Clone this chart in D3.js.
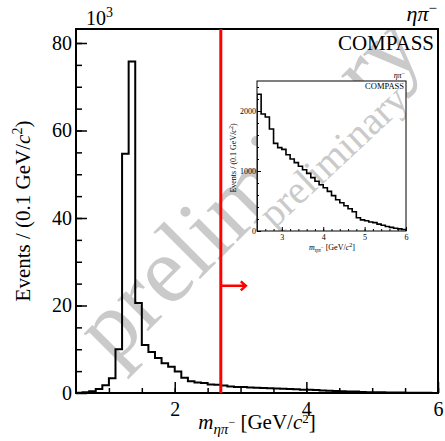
<!DOCTYPE html>
<html><head><meta charset="utf-8">
<script src="https://cdn.jsdelivr.net/npm/d3@7"></script>
<style>body{margin:0;background:#fff} svg{display:block}</style>
</head><body>
<script>
// ---------------- data ----------------
// main histogram, bins of 0.1 GeV starting at 0.5 GeV, values in 10^3 events
const binWidth = 0.1;
const lowMassStart = 0.5;
const lowMassCounts = [0.05,0.15,0.4,0.9,1.75,3.4,10.0,54.7,75.8,20.6,11.0,9.4,8.0,6.8,6.0,4.9,3.5,2.7,2.4];
// high-mass tail (also shown in inset), bins of 0.1 GeV starting at 2.4 GeV, values in events
const tailStart = 2.4;
const tailCounts = [2280,1950,1900,1700,1460,1390,1360,1270,1200,1140,1080,1020,960,890,830,770,720,660,590,520,470,420,370,320,220,185,170,150,140,115,95,75,60,45,35,25];
const mainXTicks = [2,4,6];
const mainYTicks = [0,20,40,60,80];
const insetXTicks = [3,4,5,6];
const insetYTicks = [0,1000,2000];
const cutMass = 2.7;
const arrowEnd = 3.08;
const arrowLevel = 24.5;

// ---------------- layout ----------------
const W = 445, H = 441;
const L = 76, R = 438, T = 29, B = 393;
const serif = "'Liberation Serif','Times New Roman',serif";
const wm = "#cacaca";

const svg = d3.select("body").append("svg").attr("width", W).attr("height", H)
  .style("font-family", serif);

const x = d3.scaleLinear([0.5, 6], [L, R]);
const y = d3.scaleLinear([0, 83.2], [B, T]);

function stepPoints(start, counts, scale) {
  const pts = [[start, 0]];
  counts.forEach((v, i) => {
    const lo = start + i * binWidth, hi = start + (i + 1) * binWidth;
    pts.push([lo, v * scale], [hi, v * scale]);
  });
  pts.push([start + counts.length * binWidth, 0]);
  return pts;
}

const defs = svg.append("defs");
defs.append("clipPath").attr("id", "mainclip")
  .append("rect").attr("x", L).attr("y", T).attr("width", R - L).attr("height", B - T);

// main watermark
svg.append("g").attr("clip-path", "url(#mainclip)")
  .append("text").text("preliminary")
  .attr("transform", `translate(113,366) rotate(-45)`)
  .attr("font-size", 95).attr("fill", wm);

// main histogram (low mass + tail in thousands)
const mainPts = stepPoints(lowMassStart, lowMassCounts, 1)
  .slice(0, -1)
  .concat(stepPoints(tailStart, tailCounts, 0.001).slice(1));
const line = d3.line().x(d => x(d[0])).y(d => y(d[1]));
svg.append("path").attr("d", line(mainPts)).attr("fill", "none")
  .attr("stroke", "#000").attr("stroke-width", 2).attr("clip-path", "url(#mainclip)");

// axes
const fmt = d3.format("d");
const gx = svg.append("g").attr("transform", `translate(0,${B})`);
gx.call(d3.axisBottom(x).tickValues(d3.range(1, 6.01, 0.5)).tickSize(-5).tickFormat(""));
gx.call(g => g.select(".domain").remove());
const gx2 = svg.append("g").attr("transform", `translate(0,${B})`)
  .call(d3.axisBottom(x).tickValues(mainXTicks).tickSize(-11).tickPadding(9).tickFormat(fmt));
gx2.select(".domain").remove();
gx2.selectAll("text").attr("font-size", 20).attr("font-family", serif).attr("fill", "#000");

const gy = svg.append("g").attr("transform", `translate(${L},0)`);
gy.call(d3.axisLeft(y).tickValues(d3.range(5, 83, 5)).tickSize(-6).tickFormat(""));
gy.select(".domain").remove();
const gy2 = svg.append("g").attr("transform", `translate(${L},0)`)
  .call(d3.axisLeft(y).tickValues(mainYTicks).tickSize(-11).tickPadding(4).tickFormat(fmt));
gy2.select(".domain").remove();
gy2.selectAll("text").attr("font-size", 20).attr("font-family", serif).attr("fill", "#000");
svg.selectAll(".tick line").attr("stroke", "#000").attr("stroke-width", 1.5);

// frame
svg.append("rect").attr("x", L).attr("y", T).attr("width", R - L).attr("height", B - T)
  .attr("fill", "none").attr("stroke", "#000").attr("stroke-width", 2);

// cut line + arrow
svg.append("line").attr("x1", x(cutMass)).attr("x2", x(cutMass)).attr("y1", T).attr("y2", B)
  .attr("stroke", "#ff0000").attr("stroke-width", 3);
const ax1 = x(cutMass), ax2 = x(arrowEnd), ay = y(arrowLevel);
svg.append("path").attr("d", `M${ax1},${ay}H${ax2}M${ax2-5},${ay-4.5}L${ax2},${ay}L${ax2-5},${ay+4.5}`)
  .attr("fill", "none").attr("stroke", "#ff0000").attr("stroke-width", 2.5);

// texts
const t103 = svg.append("text").attr("x", 86).attr("y", 25).attr("font-size", 20).attr("fill", "#000");
t103.append("tspan").text("10");
t103.append("tspan").text("3").attr("font-size", 14).attr("dy", -8);

const tEta = svg.append("text").attr("x", 437).attr("y", 21).attr("text-anchor", "end").attr("font-size", 22).attr("fill", "#000");
tEta.append("tspan").text("ηπ").attr("font-style", "italic");
tEta.append("tspan").text("−").attr("font-size", 15).attr("dy", -8);

svg.append("text").attr("x", 434).attr("y", 50).attr("text-anchor", "end").attr("font-size", 21).attr("fill", "#000").text("COMPASS");

const xt = svg.append("text").attr("x", 257).attr("y", 429).attr("text-anchor", "middle").attr("font-size", 21).attr("fill", "#000");
xt.append("tspan").text("m").attr("font-style", "italic");
xt.append("tspan").text("ηπ").attr("font-style", "italic").attr("font-size", 15).attr("dy", 5);
xt.append("tspan").text("−").attr("font-size", 12).attr("dy", -8);
xt.append("tspan").text(" [GeV/").attr("dy", 3);
xt.append("tspan").text("c").attr("font-style", "italic");
xt.append("tspan").text("2").attr("font-size", 13).attr("dy", -6);
xt.append("tspan").text("]").attr("dy", 6);

const yt = svg.append("text").attr("transform", "translate(30,211) rotate(-90)").attr("text-anchor", "middle").attr("font-size", 21).attr("fill", "#000");
yt.append("tspan").text("Events / (0.1 GeV/");
yt.append("tspan").text("c").attr("font-style", "italic");
yt.append("tspan").text("2").attr("font-size", 14).attr("dy", -8);
yt.append("tspan").text(")").attr("dy", 8);

// ---------------- inset ----------------
const iL = 257, iR = 406, iT = 81, iB = 231;
const xi = d3.scaleLinear([2.4, 6], [iL, iR]);
const yi = d3.scaleLinear([0, 2500], [iB, iT]);
const ig = svg.append("g");
ig.append("rect").attr("x", iL).attr("y", iT).attr("width", iR - iL).attr("height", iB - iT).attr("fill", "#fff");
defs.append("clipPath").attr("id", "insetclip")
  .append("rect").attr("x", iL).attr("y", iT).attr("width", iR - iL).attr("height", iB - iT);
ig.append("g").attr("clip-path", "url(#insetclip)")
  .append("text").text("preliminary")
  .attr("transform", `translate(333,156) rotate(-43)`)
  .attr("text-anchor", "middle").attr("dominant-baseline", "central")
  .attr("font-size", 40).attr("fill", wm);
const iline = d3.line().x(d => xi(d[0])).y(d => yi(d[1]));
ig.append("path").attr("d", iline(stepPoints(tailStart, tailCounts, 1))).attr("fill", "none")
  .attr("stroke", "#000").attr("stroke-width", 1.6).attr("clip-path", "url(#insetclip)");

const igx = ig.append("g").attr("transform", `translate(0,${iB})`)
  .call(d3.axisBottom(xi).tickValues(d3.range(2.6, 6, 0.2)).tickSize(-2).tickFormat(""));
igx.select(".domain").remove();
const igx2 = ig.append("g").attr("transform", `translate(0,${iB})`)
  .call(d3.axisBottom(xi).tickValues(insetXTicks).tickSize(-4).tickPadding(3).tickFormat(fmt));
igx2.select(".domain").remove();
const igy = ig.append("g").attr("transform", `translate(${iL},0)`)
  .call(d3.axisLeft(yi).tickValues(d3.range(200, 2500, 200)).tickSize(-2).tickFormat(""));
igy.select(".domain").remove();
const igy2 = ig.append("g").attr("transform", `translate(${iL},0)`)
  .call(d3.axisLeft(yi).tickValues(insetYTicks).tickSize(-4).tickPadding(1).tickFormat(fmt));
igy2.select(".domain").remove();
ig.selectAll(".tick text").attr("font-size", 8).attr("font-family", serif).attr("fill", "#000");
ig.selectAll(".tick line").attr("stroke", "#000").attr("stroke-width", 1);
ig.append("rect").attr("x", iL).attr("y", iT).attr("width", iR - iL).attr("height", iB - iT)
  .attr("fill", "none").attr("stroke", "#000").attr("stroke-width", 1);

ig.append("text").attr("x", 404).attr("y", 89).attr("text-anchor", "end").attr("font-size", 8.5).attr("fill", "#000").text("COMPASS");
const iEta = ig.append("text").attr("x", 405).attr("y", 78).attr("text-anchor", "end").attr("font-size", 8).attr("fill", "#000");
iEta.append("tspan").text("ηπ").attr("font-style", "italic");
iEta.append("tspan").text("−").attr("font-size", 6).attr("dy", -3);

const ixt = ig.append("text").attr("x", 332).attr("y", 250).attr("text-anchor", "middle").attr("font-size", 8).attr("fill", "#000");
ixt.append("tspan").text("m").attr("font-style", "italic");
ixt.append("tspan").text("ηπ").attr("font-style", "italic").attr("font-size", 6).attr("dy", 2);
ixt.append("tspan").text("−").attr("font-size", 5).attr("dy", -3);
ixt.append("tspan").text(" [GeV/").attr("dy", 1);
ixt.append("tspan").text("c").attr("font-style", "italic");
ixt.append("tspan").text("2").attr("font-size", 6).attr("dy", -3);
ixt.append("tspan").text("]").attr("dy", 3);

const iyt = ig.append("text").attr("transform", "translate(236,158) rotate(-90)").attr("text-anchor", "middle").attr("font-size", 8).attr("fill", "#000");
iyt.append("tspan").text("Events / (0.1 GeV/");
iyt.append("tspan").text("c").attr("font-style", "italic");
iyt.append("tspan").text("2").attr("font-size", 6).attr("dy", -3);
iyt.append("tspan").text(")").attr("dy", 3);
</script>
</body></html>
